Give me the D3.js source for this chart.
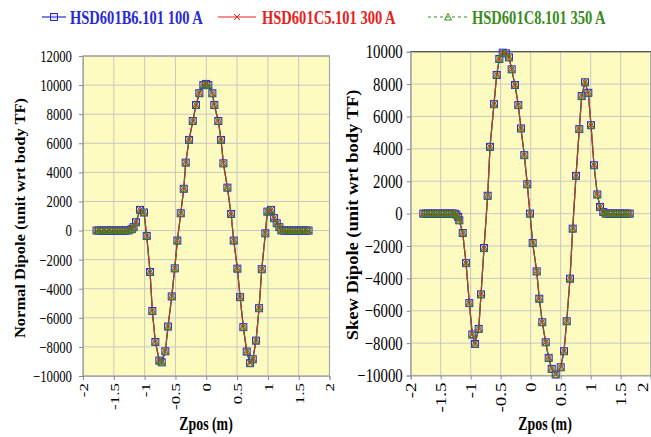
<!DOCTYPE html>
<html><head><meta charset="utf-8">
<script src="https://cdn.jsdelivr.net/npm/d3@7"></script>
<style>
html,body{margin:0;padding:0;background:#fff;}
svg{display:block;}
text{font-family:"Liberation Serif","Times New Roman",serif;}
</style></head>
<body>
<svg id="chart" width="651" height="437"></svg>
<script>
// ---------- data ----------
const seriesNames = ["HSD601B6.101 100 A", "HSD601C5.101 300 A", "HSD601C8.101 350 A"];
const seriesColors = ["#2a2ad2", "#e8201c", "#3a8a1e"];

const zposNormal = [-1.78,-1.74,-1.70,-1.66,-1.62,-1.58,-1.54,-1.50,-1.46,-1.42,-1.38,-1.34,-1.30,-1.26,
  -1.21,-1.18,-1.14,-1.075,-1.01,-0.966,-0.912,-0.875,-0.826,-0.761,-0.722,-0.664,-0.62,-0.56,-0.511,-0.469,
  -0.414,-0.365,-0.333,-0.279,-0.219,-0.166,-0.112,-0.047,-0.003,0.034,0.099,0.131,0.196,0.24,0.278,0.343,
  0.403,0.446,0.505,0.549,0.602,0.657,0.711,0.755,0.808,0.857,0.901,0.959,0.992,1.052,1.101,1.144,1.187,
  1.22,1.26,1.30,1.34,1.38,1.42,1.46,1.50,1.54,1.58,1.62,1.66];
const normalDipole = [0,0,0,0,0,0,0,0,0,0,0,0,0,10,
  90,230,570,1420,1240,-370,-2850,-5530,-7660,-8940,-9060,-8300,-6600,-4530,-2600,-690,
  1190,2870,4670,6230,7530,8630,9440,10000,10080,10000,9440,8630,7530,6230,4620,2950,
  1140,-690,-2620,-4580,-6640,-8320,-9120,-8850,-7570,-5340,-2660,-190,1300,1420,850,500,230,
  10,0,0,0,0,0,0,0,0,0,0,0];

const zposSkew = [-1.79,-1.75,-1.71,-1.67,-1.63,-1.59,-1.55,-1.51,-1.47,-1.43,-1.39,-1.35,-1.31,-1.27,
  -1.24,-1.21,-1.19,-1.133,-1.078,-1.023,-0.973,-0.928,-0.867,-0.828,-0.778,-0.717,-0.678,-0.612,-0.567,
  -0.523,-0.467,-0.412,-0.362,-0.317,-0.262,-0.207,-0.162,-0.107,-0.057,-0.012,0.033,0.1,0.143,0.193,0.25,
  0.3,0.35,0.417,0.5,0.555,0.6,0.655,0.7,0.755,0.81,0.85,0.905,0.96,1.005,1.055,1.11,1.155,1.21,
  1.25,1.29,1.33,1.37,1.41,1.45,1.49,1.53,1.57,1.61,1.65];
const skewDipole = [0,0,0,0,0,0,0,0,0,0,0,0,0,0,
  -60,-200,-415,-1200,-3060,-5530,-7470,-8050,-7120,-4990,-2130,1100,4120,6760,8560,
  9550,9940,9900,9650,8910,7940,6700,5260,3610,1810,0,-1820,-3570,-5260,-6710,-7950,
  -8910,-9590,-9940,-9490,-8500,-6650,-4020,-930,2330,5220,7260,8110,7460,5460,2990,1180,410,100,
  0,0,0,0,0,0,0,0,0,0,0];

const xTicks = [-2,-1.5,-1,-0.5,0,0.5,1,1.5,2];
const yTicksNormal = d3.range(-10000, 12001, 2000);
const yTicksSkew = d3.range(-10000, 10001, 2000);

// ---------- drawing ----------
const svg = d3.select("#chart");

const panels = [
  {zpos: zposNormal, vals: normalDipole, x0: 83, x1: 329.5, yTop: 56, yBot: 376, yDom: [-10000, 12000],
   yTicks: yTicksNormal, ytitle: "Normal Dipole  (unit wrt body TF)", ytx: 20, yty: 218, ytfs: 16.5,
   xtx: 206, tfs: 17, sx: 0.75, ypad: 7, topStroke: "#a8a8a8"},
  {zpos: zposSkew, vals: skewDipole, x0: 410.7, x1: 650.7, yTop: 51.7, yBot: 375.5, yDom: [-10000, 10000],
   yTicks: yTicksSkew, ytitle: "Skew Dipole  (unit wrt body TF)", ytx: 352, yty: 215, ytfs: 18.5,
   xtx: 545, tfs: 19, sx: 0.78, ypad: 4, topStroke: "#555"}
];

function marker(g, type, color, x, y) {
  if (type === 0) {
    g.append("rect").attr("x", x - 3.5).attr("y", y - 3.5).attr("width", 7).attr("height", 7)
      .attr("fill", "#9aa8a0").attr("fill-opacity", 0.25).attr("stroke", color).attr("stroke-width", 1);
  } else if (type === 1) {
    g.append("path").attr("d", `M${x-3},${y-3}L${x+3},${y+3}M${x-3},${y+3}L${x+3},${y-3}`)
      .attr("stroke", color).attr("stroke-width", 1);
  } else {
    g.append("path").attr("d", `M${x},${y-3.5}L${x+3.5},${y+3}L${x-3.5},${y+3}Z`)
      .attr("fill", "none").attr("stroke", color).attr("stroke-width", 1);
  }
}

panels.forEach((p, pi) => {
  const x = d3.scaleLinear().domain([-2, 2]).range([p.x0, p.x1]);
  const y = d3.scaleLinear().domain(p.yDom).range([p.yBot, p.yTop]);
  const g = svg.append("g");

  g.append("rect").attr("x", p.x0).attr("y", p.yTop).attr("width", p.x1 - p.x0).attr("height", p.yBot - p.yTop)
    .attr("fill", "#fdfbc0");

  // grid
  g.append("g").selectAll("line").data(xTicks).join("line")
    .attr("x1", d => x(d)).attr("x2", d => x(d)).attr("y1", p.yTop).attr("y2", p.yBot)
    .attr("stroke", "#c8c8c0").attr("stroke-width", 1);
  g.append("g").selectAll("line").data(p.yTicks).join("line")
    .attr("x1", p.x0).attr("x2", p.x1).attr("y1", d => y(d)).attr("y2", d => y(d))
    .attr("stroke", "#c8c8c0").attr("stroke-width", 1);

  // border
  g.append("rect").attr("x", p.x0).attr("y", p.yTop).attr("width", p.x1 - p.x0).attr("height", p.yBot - p.yTop)
    .attr("fill", "none").attr("stroke", "#a8a8a8").attr("stroke-width", 1.2);
  g.append("line").attr("x1", p.x0).attr("x2", p.x1).attr("y1", p.yTop).attr("y2", p.yTop)
    .attr("stroke", p.topStroke).attr("stroke-width", 1.2);

  // axes
  const ya = g.append("g").attr("transform", `translate(${p.x0},0)`)
    .call(d3.axisLeft(y).tickValues(p.yTicks).tickSize(4).tickFormat(d3.format("d")));
  ya.select(".domain").attr("stroke", "#a8a8a8");
  ya.selectAll(".tick line").attr("stroke", "#888");
  ya.selectAll("text").attr("font-size", p.tfs).attr("fill", "#000")
    .style("font-family", "'Liberation Serif', serif")
    .attr("x", 0).attr("transform", `translate(${-(4 + p.ypad)},0) scale(${p.sx},1)`);

  const xa = g.append("g").attr("transform", `translate(0,${p.yBot})`)
    .call(d3.axisBottom(x).tickValues(xTicks).tickSize(4).tickFormat(d => String(d)));
  xa.select(".domain").attr("stroke", "#a8a8a8");
  xa.selectAll(".tick line").attr("stroke", "#888");
  xa.selectAll("text").attr("font-size", p.tfs).attr("fill", "#000")
    .style("font-family", "'Liberation Serif', serif")
    .attr("transform", d => `rotate(-90) translate(0,${(pi === 1 && d === 2) ? -8 : 0}) scale(1,${p.sx})`)
    .attr("text-anchor", "end")
    .attr("x", -7).attr("y", 0).attr("dy", "0.35em");

  // titles
  g.append("text").attr("transform", `translate(${p.ytx},${p.yty}) rotate(-90) scale(1,0.88)`)
    .attr("text-anchor", "middle").attr("font-size", p.ytfs).attr("font-weight", "bold")
    .attr("dy", "0.35em").text(p.ytitle);
  g.append("text").attr("transform", `translate(${p.xtx},430) scale(0.73,1)`).attr("text-anchor", "middle")
    .attr("font-size", 19).attr("font-weight", "bold").text("Zpos (m)");

  // series
  const data = p.zpos.map((z, i) => [z, p.vals[i]]);
  const line = d3.line().x(d => x(d[0])).y(d => y(d[1]));
  [0, 1, 2].forEach(s => {
    g.append("path").datum(data).attr("d", line).attr("fill", "none")
      .attr("stroke", seriesColors[s]).attr("stroke-width", 1.2)
      .attr("stroke-dasharray", s === 2 ? "3,3" : null);
  });
  [0, 1, 2].forEach(s => {
    const mg = g.append("g");
    data.forEach(d => marker(mg, s, seriesColors[s], x(d[0]), y(d[1])));
  });
});

// legend
const legendItems = [
  {lx0: 42, lx1: 66, tx: 70},
  {lx0: 218, lx1: 256, tx: 262},
  {lx0: 428, lx1: 468, tx: 472}
];
const lg = svg.append("g");
legendItems.forEach((it, s) => {
  lg.append("line").attr("x1", it.lx0).attr("x2", it.lx1).attr("y1", 17).attr("y2", 17)
    .attr("stroke", seriesColors[s]).attr("stroke-width", 1.2)
    .attr("stroke-dasharray", s === 2 ? "3,3" : null);
  marker(lg, s, seriesColors[s], (it.lx0 + it.lx1) / 2, 17);
  lg.append("text").attr("transform", `translate(${it.tx},17) scale(0.745,1)`).attr("dy", "0.35em")
    .attr("font-size", 19.5).attr("font-weight", "bold").attr("fill", seriesColors[s])
    .text(seriesNames[s]);
});
</script>
</body></html>
